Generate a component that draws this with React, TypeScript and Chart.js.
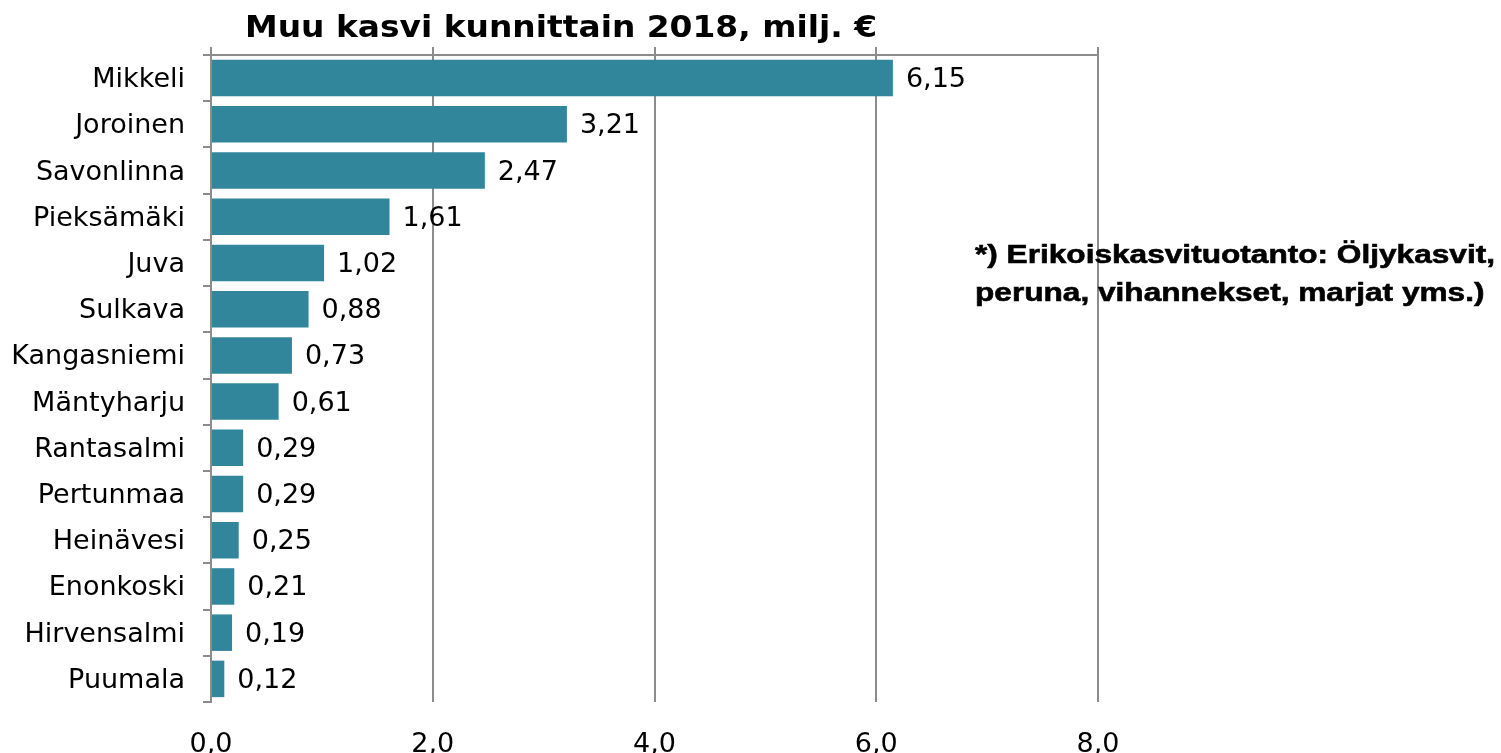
import React, { useEffect, useRef } from "react";
import { Chart, registerables } from "chart.js";

Chart.register(...registerables);

const categories = [
  "Mikkeli", "Joroinen", "Savonlinna", "Pieksämäki", "Juva", "Sulkava", "Kangasniemi",
  "Mäntyharju", "Rantasalmi", "Pertunmaa", "Heinävesi", "Enonkoski", "Hirvensalmi", "Puumala",
];
const values = [6.15, 3.21, 2.47, 1.61, 1.02, 0.88, 0.73, 0.61, 0.29, 0.29, 0.25, 0.21, 0.19, 0.12];
const xTickValues = [0, 2, 4, 6, 8];
const xTickLabels = ["0,0", "2,0", "4,0", "6,0", "8,0"];
const titleText = "Muu kasvi kunnittain 2018, milj. €";
const noteLines = ["*) Erikoiskasvituotanto: Öljykasvit,", "peruna, vihannekset, marjat yms.)"];

const BAR_COLOR = "#31869C";
const GRID_COLOR = "#8C8C8C";
const FONT = "'DejaVu Sans', Verdana, sans-serif";

const fmt = (v: number) => v.toFixed(2).replace(".", ",");

const labelsPlugin = {
  id: "extras",
  afterDatasetsDraw(chart: any) {
    const ctx = chart.ctx;
    const meta = chart.getDatasetMeta(0);
    ctx.save();
    ctx.fillStyle = "#000";
    ctx.font = `27px ${FONT}`;
    ctx.textAlign = "left";
    ctx.textBaseline = "middle";
    meta.data.forEach((bar: any, i: number) => {
      ctx.fillText(fmt(values[i]), bar.x + 13, bar.y + 2);
    });
    ctx.restore();
  },
  afterDraw(chart: any) {
    const ctx = chart.ctx;
    ctx.save();
    ctx.fillStyle = "#000";
    ctx.font = `bold 30px ${FONT}`;
    ctx.textAlign = "left";
    ctx.textBaseline = "alphabetic";
    const tw = ctx.measureText(titleText).width;
    const tScale = 632 / tw;
    ctx.save();
    ctx.translate(245, 37);
    ctx.scale(tScale, 1);
    ctx.fillText(titleText, 0, 0);
    ctx.restore();
    ctx.font = `bold 26.5px 'Liberation Sans', Arial, sans-serif`;
    const nw = ctx.measureText(noteLines[0]).width;
    const nScale = 520 / nw;
    ctx.strokeStyle = "#000";
    ctx.lineWidth = 0.6;
    noteLines.forEach((line, i) => {
      ctx.save();
      ctx.translate(975, 263 + i * 38);
      ctx.scale(nScale, 1);
      ctx.fillText(line, 0, 0);
      ctx.strokeText(line, 0, 0);
      ctx.restore();
    });
    ctx.restore();
  },
};

export default function App() {
  const ref = useRef<HTMLCanvasElement | null>(null);
  useEffect(() => {
    if (!ref.current) return;
    const chart = new Chart(ref.current, {
      type: "bar",
      data: {
        labels: categories,
        datasets: [
          {
            data: values,
            backgroundColor: BAR_COLOR,
            borderWidth: 0,
            barPercentage: 0.79,
            categoryPercentage: 1,
          },
        ],
      },
      options: {
        indexAxis: "y",
        animation: false,
        responsive: false,
        maintainAspectRatio: false,
        layout: { padding: { top: 47, right: 403, left: 0, bottom: 0 } },
        plugins: {
          legend: { display: false },
          tooltip: { enabled: false },
          title: { display: false },
        },
        scales: {
          x: {
            position: "top",
            min: 0,
            max: 8,
            afterBuildTicks: (s: any) => {
              s.ticks = xTickValues.map((v) => ({ value: v }));
            },
            ticks: { display: false },
            grid: { color: GRID_COLOR, lineWidth: 2, drawTicks: true, tickLength: 8, tickColor: GRID_COLOR },
            border: { display: true, color: GRID_COLOR, width: 2 },
          },
          x2: {
            type: "linear",
            axis: "x",
            position: "bottom",
            min: 0,
            max: 8,
            afterBuildTicks: (s: any) => {
              s.ticks = xTickValues.map((v) => ({ value: v }));
            },
            afterFit: (s: any) => {
              s.height = 51;
            },
            ticks: {
              color: "#000",
              font: { family: FONT, size: 27 },
              padding: 27,
              maxRotation: 0,
              callback: (_v: any, i: number) => xTickLabels[i],
            },
            grid: { display: false, drawTicks: false },
            border: { display: false },
          },
          y: {
            afterFit: (s: any) => {
              s.width = 211;
            },
            ticks: {
              color: "#000",
              font: { family: FONT, size: 27 },
              padding: 18,
              labelOffset: 2,
            },
            grid: {
              offset: true,
              drawOnChartArea: false,
              drawTicks: true,
              tickLength: 8,
              color: GRID_COLOR,
              lineWidth: 2,
            },
            border: { display: true, color: GRID_COLOR, width: 2 },
          },
        },
      },
      plugins: [labelsPlugin],
    } as any);
    return () => chart.destroy();
  }, []);
  return (
    <div style={{ position: "fixed", left: 0, top: 0, width: 1501, height: 753, background: "#fff" }}>
      <canvas ref={ref} width={1501} height={753} style={{ display: "block", width: 1501, height: 753 }} />
    </div>
  );
}
